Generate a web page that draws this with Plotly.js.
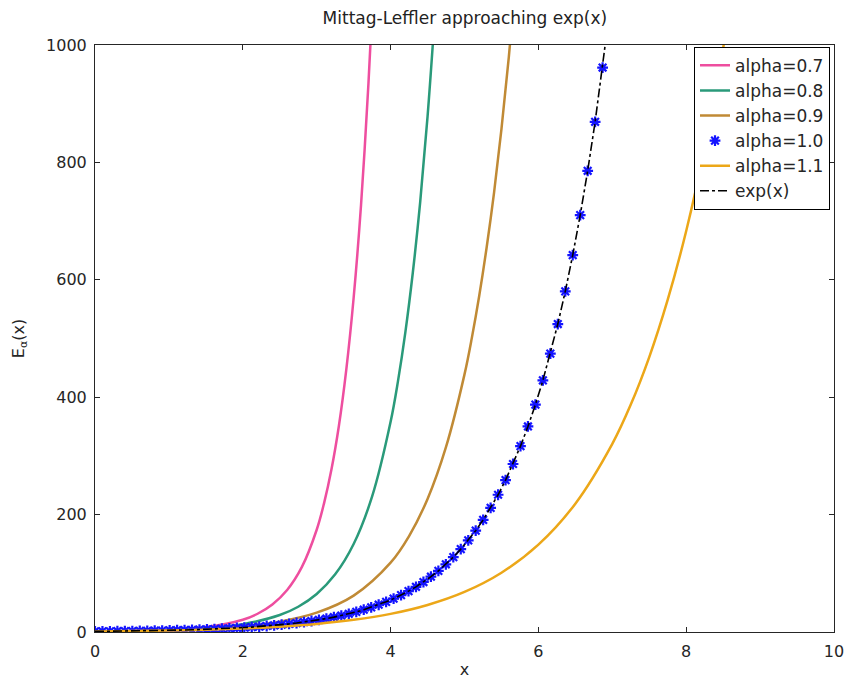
<!DOCTYPE html>
<html>
<head>
<meta charset="utf-8">
<script src="https://cdn.plot.ly/plotly-3.0.1.min.js"></script>
<style>html,body{margin:0;padding:0;background:#fff;}#chart{width:846px;height:679px;}</style>
</head>
<body>
<div id="chart"></div>
<script>
// ---- data ----
const seriesNames = ["alpha=0.7", "alpha=0.8", "alpha=0.9", "alpha=1.0", "alpha=1.1", "exp(x)"];

const xA07 = [0, 0.5, 1, 1.5, 2, 2.2, 2.4, 2.6, 2.8, 3.0, 3.1, 3.2, 3.3, 3.4, 3.5, 3.6, 3.7, 3.75];
const yA07 = [1, 1.82, 3.70, 8.37, 20.9, 31.1, 46.9, 71.6, 110.9, 174.2, 219.6, 277.2, 351.0, 446.6, 569.4, 727.6, 933.7, 1058.6];

const xA08 = [0, 0.5, 1, 1.5, 2, 2.5, 2.75, 3, 3.25, 3.5, 3.75, 4, 4.1, 4.2, 4.3, 4.4, 4.5, 4.6];
const yA08 = [1, 1.76, 3.29, 6.49, 13.4, 28.9, 43.0, 64.7, 98.2, 149.9, 230.9, 358.0, 427.4, 510.9, 611.6, 731.7, 877.9, 1054];

const xA09 = [0, 0.5, 1, 1.5, 2, 2.5, 3, 3.5, 4, 4.25, 4.5, 4.75, 5, 5.1, 5.2, 5.3, 5.4, 5.5, 5.6, 5.7];
const yA09 = [1, 1.70, 2.98, 5.30, 9.58, 17.7, 32.9, 62.0, 118.1, 163.4, 226.7, 315.3, 438.9, 501.5, 573.3, 655.5, 748.6, 856.7, 979.7, 1121];

const xA10 = [0, 0.1010, 0.2020, 0.3030, 0.4040, 0.5051, 0.6061, 0.7071, 0.8081, 0.9091,
  1.0101, 1.1111, 1.2121, 1.3131, 1.4141, 1.5152, 1.6162, 1.7172, 1.8182, 1.9192,
  2.0202, 2.1212, 2.2222, 2.3232, 2.4242, 2.5253, 2.6263, 2.7273, 2.8283, 2.9293,
  3.0303, 3.1313, 3.2323, 3.3333, 3.4343, 3.5354, 3.6364, 3.7374, 3.8384, 3.9394,
  4.0404, 4.1414, 4.2424, 4.3434, 4.4444, 4.5455, 4.6465, 4.7475, 4.8485, 4.9495,
  5.0505, 5.1515, 5.2525, 5.3535, 5.4545, 5.5556, 5.6566, 5.7576, 5.8586, 5.9596,
  6.0606, 6.1616, 6.2626, 6.3636, 6.4646, 6.5657, 6.6667, 6.7677, 6.8687, 6.9697];
const yA10 = [1, 1.106, 1.224, 1.354, 1.498, 1.657, 1.833, 2.028, 2.244, 2.482,
  2.746, 3.038, 3.361, 3.718, 4.113, 4.550, 5.034, 5.569, 6.161, 6.816,
  7.540, 8.341, 9.228, 10.21, 11.29, 12.49, 13.82, 15.29, 16.92, 18.72,
  20.70, 22.90, 25.34, 28.03, 31.01, 34.31, 37.95, 41.99, 46.45, 51.39,
  56.85, 62.89, 69.58, 76.97, 85.15, 94.20, 104.2, 115.3, 127.5, 141.1,
  156.1, 172.7, 191.0, 211.4, 233.8, 258.7, 286.2, 316.6, 350.2, 387.4,
  428.6, 474.2, 524.6, 580.3, 642.0, 710.2, 785.7, 869.2, 961.6, 1063.8];

const xA11 = [0, 0.5, 1, 1.5, 2, 2.5, 3, 3.5, 4, 4.5, 5, 5.5, 6, 6.5, 7, 7.25, 7.5, 7.75, 8, 8.25, 8.5, 8.75];
const yA11 = [1, 1.60, 2.51, 3.89, 5.99, 9.11, 13.76, 20.7, 30.9, 46.1, 68.3, 101.0, 148.8, 218.6, 320.5, 387.4, 468.4, 566.1, 683.2, 824.6, 994.8, 1198.7];

const xExp = xA10;
const yExp = yA10;

const xTicks = [0, 2, 4, 6, 8, 10];
const yTicks = [0, 200, 400, 600, 800, 1000];

const FONT = "DejaVu Sans, Verdana, sans-serif";
const AXC = "#262626";

const traces = [
  {x: xA07, y: yA07, name: seriesNames[0], mode: "lines", line: {color: "#ee4e9f", width: 2.5, shape: "spline"}},
  {x: xA08, y: yA08, name: seriesNames[1], mode: "lines", line: {color: "#2a9a7a", width: 2.5, shape: "spline"}},
  {x: xA09, y: yA09, name: seriesNames[2], mode: "lines", line: {color: "#c08a35", width: 2.5, shape: "spline"}},
  {x: xA10, y: yA10, name: seriesNames[3], mode: "markers",
   marker: {symbol: "asterisk-open", size: 9, color: "#1414ff", line: {color: "#1414ff", width: 2.2}}},
  {x: xA11, y: yA11, name: seriesNames[4], mode: "lines", line: {color: "#eca718", width: 2.5, shape: "spline"}},
  {x: xExp, y: yExp, name: seriesNames[5], mode: "lines", line: {color: "#000000", width: 1.6, dash: "dashdot"}}
];

const layout = {
  width: 846, height: 679,
  margin: {l: 95, r: 12, t: 45, b: 47},
  paper_bgcolor: "#ffffff", plot_bgcolor: "#ffffff",
  font: {family: FONT, size: 16, color: AXC},
  title: {text: "Mittag-Leffler approaching exp(x)", font: {family: FONT, size: 17, color: "#222"},
          x: 0.5495, xanchor: "center", y: 0.973, yanchor: "middle"},
  xaxis: {range: [0, 10], tickvals: xTicks, ticktext: xTicks.map(String),
          ticks: "inside", ticklen: 5, tickcolor: AXC, tickwidth: 1,
          showline: true, linecolor: AXC, linewidth: 1, mirror: "ticks",
          showgrid: false, zeroline: false, ticklabelstandoff: 5,
          tickfont: {family: FONT, size: 16, color: AXC},
          title: {text: "x", font: {family: FONT, size: 16, color: AXC}, standoff: 9}},
  yaxis: {range: [0, 1000], tickvals: yTicks, ticktext: yTicks.map(String),
          ticks: "inside", ticklen: 5, tickcolor: AXC, tickwidth: 1,
          showline: true, linecolor: AXC, linewidth: 1, mirror: "ticks",
          showgrid: false, zeroline: false, ticklabelstandoff: 4,
          tickfont: {family: FONT, size: 16, color: AXC},
          title: {text: "E<sub>α</sub>(x)", font: {family: FONT, size: 16, color: AXC}, standoff: 17}},
  showlegend: true,
  legend: {x: 0.9946, xanchor: "right", y: 0.997, yanchor: "top",
           bgcolor: "#ffffff", bordercolor: "#000000", borderwidth: 1,
           font: {family: FONT, size: 17, color: AXC}, tracegroupgap: 0}
};

Plotly.newPlot("chart", traces, layout, {staticPlot: true, displayModeBar: false});
</script>
</body>
</html>
